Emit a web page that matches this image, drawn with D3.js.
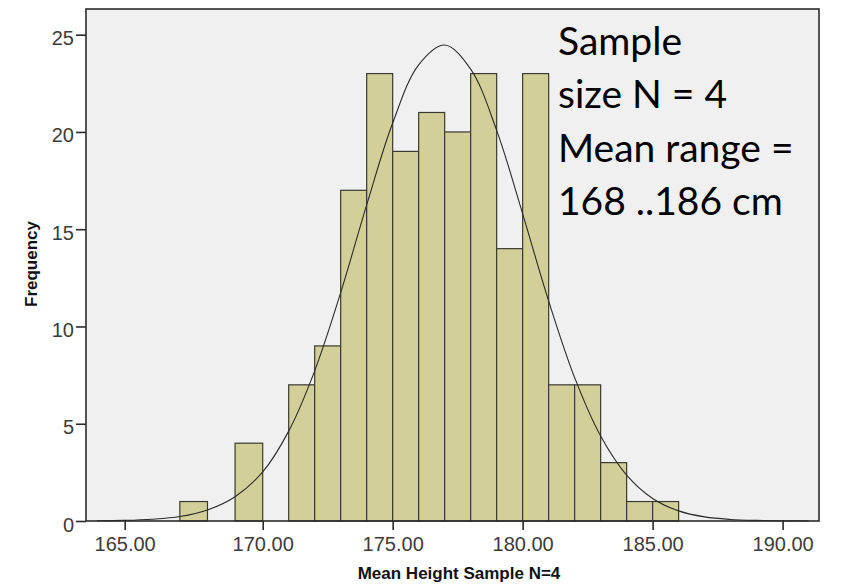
<!DOCTYPE html>
<html>
<head>
<meta charset="utf-8">
<script src="https://cdn.jsdelivr.net/npm/d3@7"></script>
<style>
  body { margin: 0; background: #fff; }
  svg { display: block; }
</style>
</head>
<body>
<div id="chart"></div>
<script>
// Histogram bins (left edge, width 1 cm) and frequencies
const binLeft = [167, 168, 169, 170, 171, 172, 173, 174, 175, 176, 177, 178, 179, 180, 181, 182, 183, 184, 185];
const counts  = [1,   0,   4,   0,   7,   9,   17,  23,  19,  21,  20,  23,  14,  23,  7,   7,   3,   1,   1];

// Fitted normal curve, heights read at whole cm
const curveX = [164, 165, 166, 167, 168, 169, 170, 171, 172, 173, 174, 175, 176, 177, 178, 179, 180, 181, 182, 183, 184, 185, 186, 187, 188, 189, 190, 191];
const curveY = [0.01, 0.03, 0.09, 0.23, 0.57, 1.25, 2.52, 4.62, 7.72, 11.74, 16.25, 20.46, 23.45, 24.47, 23.23, 20.08, 15.79, 11.31, 7.37, 4.37, 2.36, 1.16, 0.52, 0.21, 0.08, 0.03, 0.01, 0.0];

const xTicks = [165, 170, 175, 180, 185, 190];
const yTicks = [0, 5, 10, 15, 20, 25];

const noteLines = ["Sample", "size N = 4", "Mean range =", "168 ..186 cm"];

const W = 856, H = 584;
const margin = {top: 9, right: 37, bottom: 63, left: 86},
    width = W - margin.left - margin.right,
    height = H - margin.top - margin.bottom;

const svg = d3.select("#chart")
  .append("svg")
    .attr("width", W)
    .attr("height", H);

const g = svg.append("g")
    .attr("transform", `translate(${margin.left},${margin.top})`);

// the screenshot is a little wider on the left than on the right
const x = d3.scaleLinear()
  .domain([163.6, 170, 191.4])
  .range([0, 176.7, width]);

const y = d3.scaleLinear()
  .domain([0, 26.32])
  .range([height, 0]);

// plot background
g.append("rect")
  .attr("width", width)
  .attr("height", height)
  .attr("fill", "#f0f0f0");

// bars
g.selectAll("rect.bar")
  .data(binLeft.map((b, i) => ({b: b, n: counts[i]})).filter(d => d.n > 0))
  .enter()
  .append("rect")
    .attr("class", "bar")
    .attr("x", d => x(d.b))
    .attr("y", d => y(d.n))
    .attr("width", d => x(d.b + 1) - x(d.b))
    .attr("height", d => y(0) - y(d.n))
    .attr("fill", "#d3cf98")
    .attr("stroke", "#3a3a30")
    .attr("stroke-width", 1.2);

// normal curve
const line = d3.line()
  .x((d, i) => x(curveX[i]))
  .y(d => y(d))
  .curve(d3.curveCatmullRom);

g.append("path")
  .datum(curveY)
  .attr("d", line)
  .attr("fill", "none")
  .attr("stroke", "#2a2a2a")
  .attr("stroke-width", 1.1);

// frame
g.append("rect")
  .attr("width", width)
  .attr("height", height)
  .attr("fill", "none")
  .attr("stroke", "#2b2b2b")
  .attr("stroke-width", 1.6);

// y axis
const yAxis = g.append("g")
  .call(d3.axisLeft(y).tickValues(yTicks).tickSize(10).tickFormat(d3.format("d")));
yAxis.select(".domain").remove();
yAxis.selectAll("line").attr("stroke", "#2b2b2b").attr("stroke-width", 1.6);
yAxis.selectAll("text")
  .attr("x", -12)
  .attr("dy", "0.5em")
  .attr("fill", "#3c3c3c")
  .style("font-family", "'Liberation Sans', Arial, sans-serif")
  .style("font-size", "20px");

// x axis
const xAxis = g.append("g")
  .attr("transform", `translate(0,${height})`)
  .call(d3.axisBottom(x).tickValues(xTicks).tickSize(9).tickFormat(d3.format(".2f")));
xAxis.select(".domain").remove();
xAxis.selectAll("line").attr("stroke", "#2b2b2b").attr("stroke-width", 1.6);
xAxis.selectAll("text")
  .attr("y", 30)
  .attr("dy", 0)
  .attr("fill", "#3c3c3c")
  .style("font-family", "'Liberation Sans', Arial, sans-serif")
  .style("font-size", "20px");

// axis titles
svg.append("text")
  .attr("x", 459)
  .attr("y", 579)
  .attr("text-anchor", "middle")
  .style("font-family", "'Liberation Sans', Arial, sans-serif")
  .style("font-weight", "bold")
  .style("font-size", "17px")
  .attr("fill", "#111")
  .text("Mean Height Sample N=4");

svg.append("text")
  .attr("transform", "translate(37,264) rotate(-90)")
  .attr("text-anchor", "middle")
  .style("font-family", "'Liberation Sans', Arial, sans-serif")
  .style("font-weight", "bold")
  .style("font-size", "17px")
  .attr("fill", "#111")
  .text("Frequency");

// annotation
svg.append("g")
  .selectAll("text")
  .data(noteLines)
  .enter()
  .append("text")
    .attr("x", 558)
    .attr("y", (d, i) => 55 + i * 53.4)
    .style("font-family", "Lato, 'Open Sans', sans-serif")
    .style("font-size", "39px")
    .attr("fill", "#000")
    .text(d => d);
</script>
</body>
</html>
